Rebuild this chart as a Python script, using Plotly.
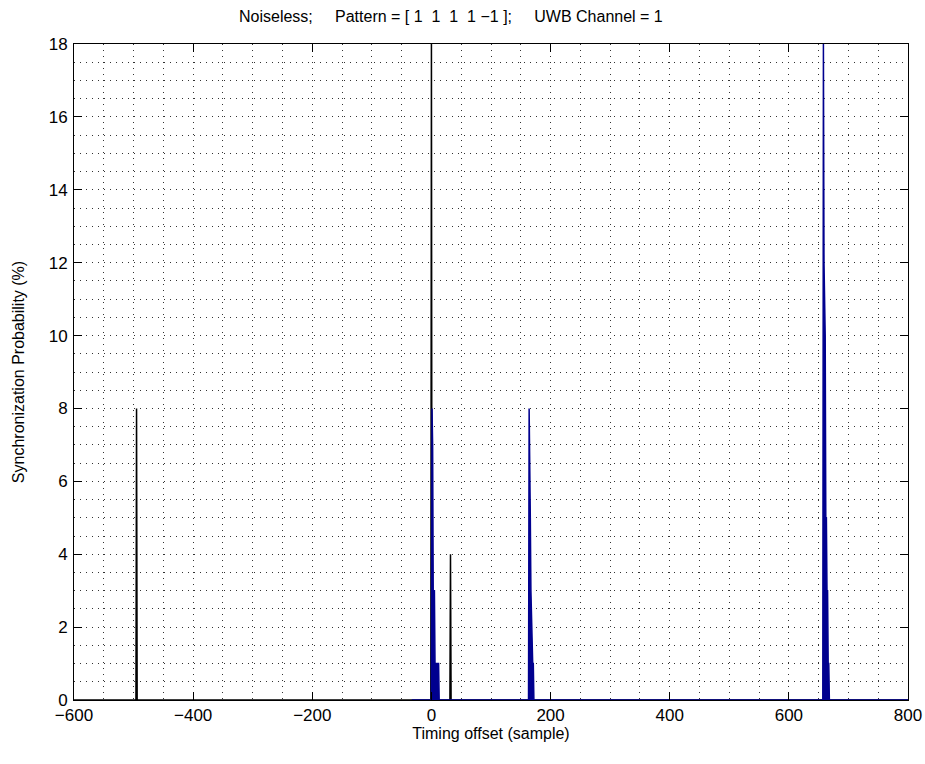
import plotly.graph_objects as go

# Black series (spikes)
black_x = [-600, -496, -495, -494, -1, 0, 1, 31, 32, 33, 800]
black_y = [0, 0, 8, 0, 0, 18, 0, 0, 4, 0, 0]

# Blue series (synchronization probability per sample offset)
blue_x = [-33, 0, 1, 2, 3, 4, 5, 6, 7, 8, 9, 10, 11, 12, 13,
          163, 164, 165, 166, 167, 168, 169, 170, 171, 172,
          657, 658, 659, 660, 661, 662, 663, 664, 665, 666, 667, 668, 800]
blue_y = [0, 0, 8, 7, 3, 3, 3, 1, 1, 1, 1, 1, 1, 1, 0,
          0, 8, 5, 5, 3, 2, 2, 1, 1, 0,
          0, 18, 12, 10, 10, 5, 5, 3, 3, 1, 1, 0, 0]

x_ticks = [-600, -400, -200, 0, 200, 400, 600, 800]
y_ticks = [0, 2, 4, 6, 8, 10, 12, 14, 16, 18]

NB = "\u00a0"
title_text = ("Noiseless;" + NB * 5 + "Pattern = [ 1" + NB * 2 + "1" + NB * 2 + "1" + NB * 2 + "1" + NB + "\u2212"
              "1 ];" + NB * 5 + "UWB Channel = 1")

fig = go.Figure()
fig.add_trace(go.Scatter(x=black_x, y=black_y, mode="lines",
                         line=dict(color="#000000", width=1.5), showlegend=False))
fig.add_trace(go.Scatter(x=blue_x, y=blue_y, mode="lines", fill="tozeroy",
                         fillcolor="#00008F",
                         line=dict(color="#00008F", width=1.5), showlegend=False))

grid_col = "#333333"
grid_dash = "1px,5px"
FAM = "Liberation Sans, Arial, sans-serif"
tick_font = dict(family=FAM, size=17, color="#000000")
lab_font = dict(family=FAM, size=16, color="#000000")

fig.update_layout(
    width=925, height=764,
    margin=dict(l=73.5, r=17.3, t=44, b=64),
    paper_bgcolor="white", plot_bgcolor="white",
    font=lab_font,
    title=dict(text=title_text, x=239/925, xanchor="left", xref="container",
               y=1 - 16/764, yanchor="middle", yref="container", font=lab_font),
    xaxis=dict(range=[-600, 800], tickvals=x_ticks, automargin=False,
               ticks="inside", ticklen=8, tickcolor="#000", mirror="allticks",
               showline=True, linecolor="#000", linewidth=1,
               showgrid=True, gridcolor=grid_col, griddash=grid_dash, gridwidth=1,
               minor=dict(dtick=50, showgrid=True, gridcolor=grid_col, griddash=grid_dash, gridwidth=1),
               zeroline=False, tickfont=tick_font,
               title=dict(text="Timing offset (sample)", standoff=0, font=lab_font)),
    yaxis=dict(range=[0, 18], tickvals=y_ticks, automargin=False,
               ticks="inside", ticklen=8, tickcolor="#000", mirror="allticks",
               showline=True, linecolor="#000", linewidth=1,
               showgrid=True, gridcolor=grid_col, griddash=grid_dash, gridwidth=1,
               minor=dict(dtick=0.5, showgrid=True, gridcolor=grid_col, griddash=grid_dash, gridwidth=1),
               zeroline=False, tickfont=tick_font, ticklabelstandoff=2,
               title=dict(text="Synchronization Probability (%)", standoff=20, font=lab_font)),
)

fig.write_html("out.html")
